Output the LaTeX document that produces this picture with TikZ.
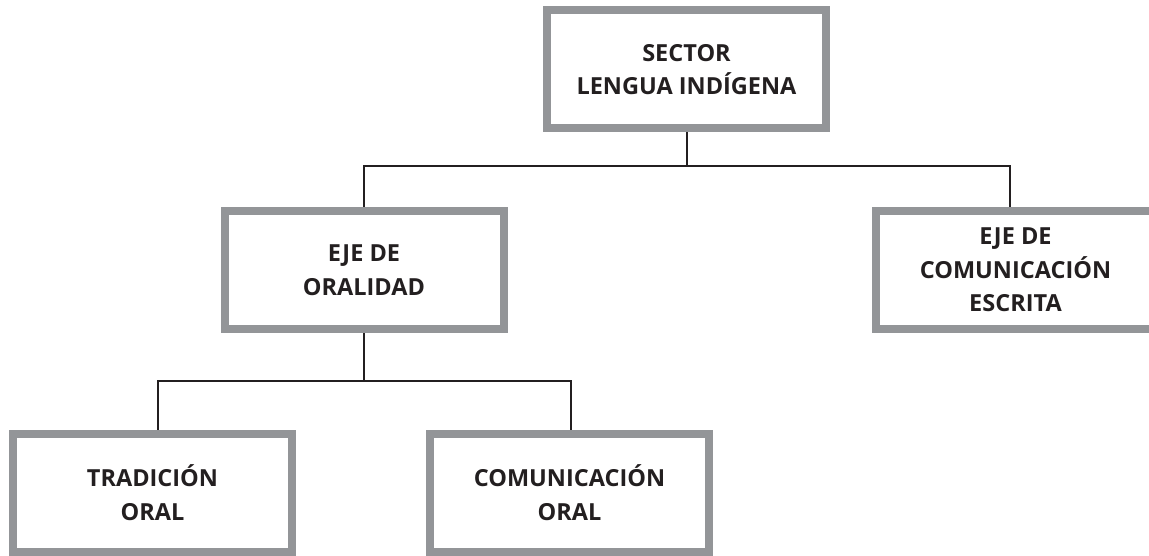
\documentclass[tikz,border=0pt]{standalone}
\usepackage{fontspec}
\setmainfont{Open Sans}
\usetikzlibrary{backgrounds}
\definecolor{boxgray}{HTML}{939598}
\definecolor{ink}{HTML}{231F20}
\tikzset{
  box/.style={draw=boxgray, line width=8pt, fill=white, minimum width=279pt,
    minimum height=118pt, align=center, text=ink, inner sep=0pt,
    font=\fontsize{23.5}{33.5}\selectfont\bfseries},
  conn/.style={draw=ink, line width=2pt}
}
\begin{document}
\begin{tikzpicture}[x=1pt,y=-1pt]
\useasboundingbox (0,0) rectangle (1149,556);
\clip (0,0) rectangle (1149,556);
\node[box] (top) at (686.5,69.5) {SECTOR\\LENGUA INDÍGENA};
\node[box] (oral) at (364,270) {EJE DE\\ORALIDAD};
\node[box] (escr) at (1015.5,270) {EJE DE\\COMUNICACIÓN\\ESCRITA};
\node[box] (trad) at (152.5,492.5) {TRADICIÓN\\ORAL};
\node[box] (com) at (569.5,492.5) {COMUNICACIÓN\\ORAL};
\coordinate (h1) at (0,166);
\coordinate (h2) at (0,381);
\coordinate (ej) at ([xshift=-5.5pt]escr.north);
\coordinate (tj) at ([xshift=5.5pt]trad.north);
\coordinate (cj) at ([xshift=1.5pt]com.north);
\begin{scope}[on background layer]
\draw[conn] (top.south) -- (top.south |- h1);
\draw[conn] (oral.north) -- (oral.north |- h1) -- (ej |- h1) -- (ej);
\draw[conn] (oral.south) -- (oral.south |- h2);
\draw[conn] (tj) -- (tj |- h2) -- (cj |- h2) -- (cj);
\end{scope}
\end{tikzpicture}
\end{document}
